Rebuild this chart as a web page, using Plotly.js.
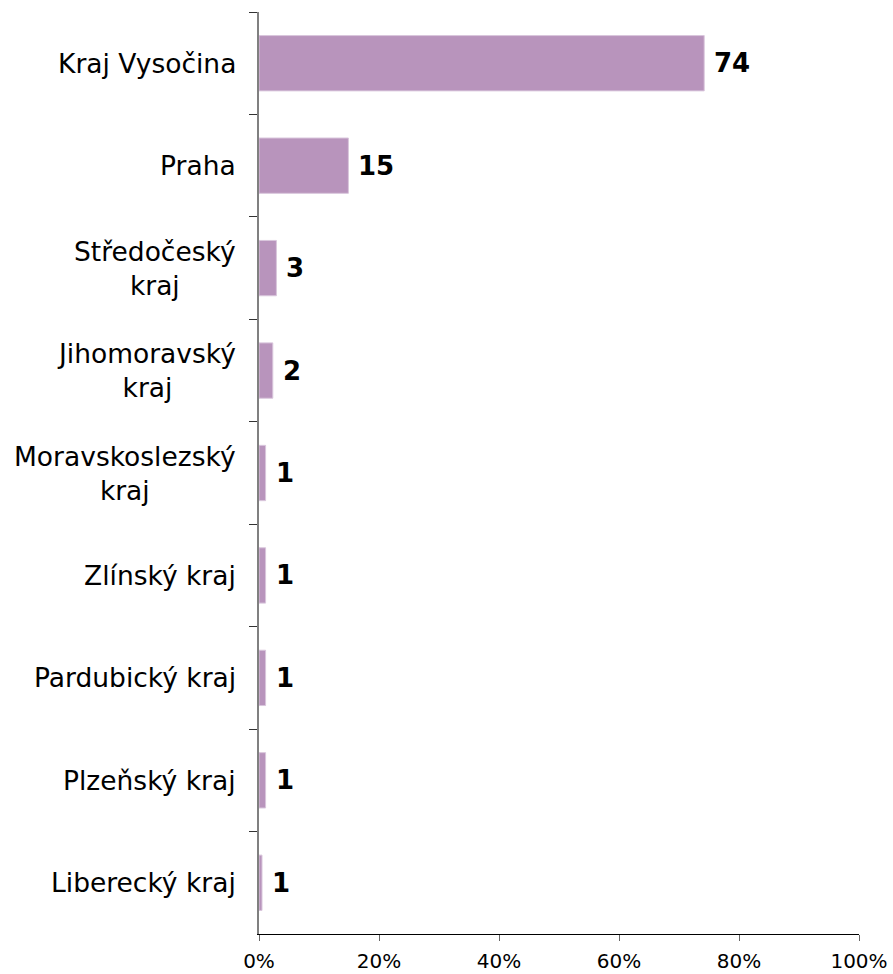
<!DOCTYPE html>
<html>
<head>
<meta charset="utf-8">
<script src="https://cdn.plot.ly/plotly-3.0.1.min.js"></script>
<style>html,body{margin:0;padding:0;background:#fff;}#chart{width:893px;height:974px;}</style>
</head>
<body>
<div id="chart"></div>
<script>
// Data
const categories = ["Kraj Vysočina", "Praha", "Středočeský kraj", "Jihomoravský kraj", "Moravskoslezský kraj", "Zlínský kraj", "Pardubický kraj", "Plzeňský kraj", "Liberecký kraj"];
const categoryLabels = ["Kraj Vysočina", "Praha", "Středočeský<br>kraj", "Jihomoravský<br>kraj", "Moravskoslezský<br>kraj", "Zlínský kraj", "Pardubický kraj", "Plzeňský kraj", "Liberecký kraj"];
const values = [74.2, 14.9, 2.9, 2.3, 1.1, 1.1, 1.1, 1.1, 0.5];
const valueLabels = ["74", "15", "3", "2", "1", "1", "1", "1", "1"];
const xTickVals = [0, 20, 40, 60, 80, 100];
const xTickText = ["0%", "20%", "40%", "60%", "80%", "100%"];

const FONT = "DejaVu Sans, Verdana, sans-serif";

const trace = {
  type: "bar",
  orientation: "h",
  x: values,
  y: categories,
  marker: { color: "#b894bc", line: { color: "#d9c6dc", width: 1 } },
  hoverinfo: "none"
};

const annotations = [];
categories.forEach((c, i) => {
  annotations.push({
    xref: "paper", yref: "y", x: 0, y: c,
    xanchor: "right", yanchor: "middle", xshift: -21,
    text: categoryLabels[i], align: "center", showarrow: false,
    font: { family: FONT, size: 26.5, color: "#000" }
  });
  annotations.push({
    xref: "x", yref: "y", x: values[i], y: c,
    xanchor: "left", yanchor: "middle", xshift: 8,
    text: "<b>" + valueLabels[i] + "</b>", showarrow: false,
    font: { family: FONT, size: 26, color: "#000" }
  });
});

const layout = {
  width: 893, height: 974,
  margin: { l: 259, r: 34, t: 12, b: 40, pad: 0 },
  paper_bgcolor: "#fff", plot_bgcolor: "#fff",
  showlegend: false,
  bargap: 0.46,
  xaxis: {
    range: [0, 100], tickvals: xTickVals, ticktext: xTickText,
    showgrid: false, zeroline: false,
    showline: true, linecolor: "#000", linewidth: 1,
    ticks: "outside", ticklen: 6, tickcolor: "#666", tickwidth: 1,
    ticklabelstandoff: 3,
    tickfont: { family: FONT, size: 20, color: "#000" },
    fixedrange: true
  },
  yaxis: {
    type: "category", categoryorder: "array", categoryarray: categories,
    autorange: "reversed",
    showticklabels: false,
    showgrid: false, zeroline: false,
    showline: true, linecolor: "#808080", linewidth: 2,
    ticks: "outside", tickson: "boundaries", ticklen: 8, tickcolor: "#333", tickwidth: 1,
    fixedrange: true
  },
  annotations: annotations
};

Plotly.newPlot("chart", [trace], layout, { displayModeBar: false, staticPlot: true });
</script>
</body>
</html>
